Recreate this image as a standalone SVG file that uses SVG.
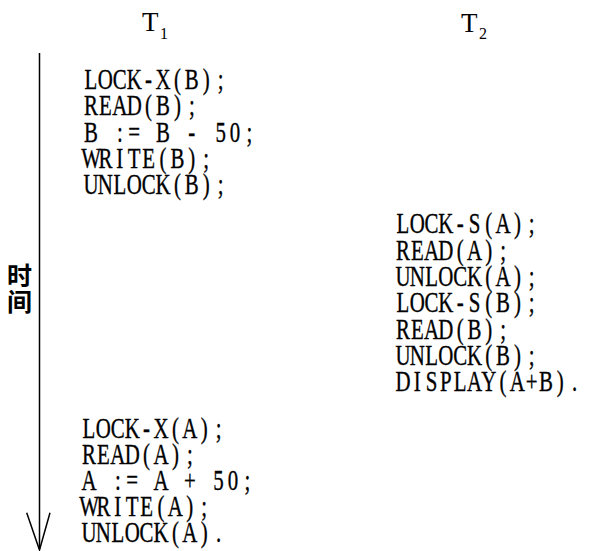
<svg xmlns="http://www.w3.org/2000/svg" width="594" height="551" viewBox="0 0 594 551">
<style>
.code{font-family:"Liberation Serif","Times New Roman",serif;font-size:29px;fill:#000;text-anchor:middle;stroke:#000;stroke-width:0.35}
.hd{font-family:"Liberation Serif","Times New Roman",serif;fill:#000}
.cjk{font-family:"Noto Sans CJK SC",sans-serif;font-size:25px;font-weight:bold;fill:#000}
.ln{stroke:#000;stroke-width:1.5;fill:none}
</style>
<rect width="594" height="551" fill="#fff"/>
<g id="connectors">
<line class="ln" x1="39.5" y1="53" x2="39.5" y2="549"/>
<polyline class="ln" points="26.7,512.7 39.5,550 50,512.7"/>
</g>
<g id="time-label">
<text class="cjk" x="7" y="285">时</text>
<text class="cjk" x="7" y="311">间</text>
</g>
<g id="header-T1">
<text class="hd" x="142" y="31" font-size="27">T</text>
<text class="hd" x="160" y="39" font-size="16">1</text>
</g>
<g id="header-T2">
<text class="hd" x="461" y="32" font-size="27">T</text>
<text class="hd" x="479" y="39" font-size="16">2</text>
</g>
<g id="T1-block1" transform="scale(0.72,1)">
<text class="code" x="126.4 146.4 166.4 186.4 206.4 226.4 246.4 266.4 286.4 306.4" y="89.3">LOCK-X(B);</text>
<text class="code" x="126.4 146.4 166.4 186.4 206.4 226.4 246.4 266.4" y="115.5">READ(B);</text>
<text class="code" x="126.4 146.4 166.4 186.4 206.4 226.4 246.4 266.4 286.4 306.4 326.4 346.4" y="141.7">B := B - 50;</text>
<text class="code" x="126.4 146.4 166.4 186.4 206.4 226.4 246.4 266.4 286.4" y="167.9">WRITE(B);</text>
<text class="code" x="126.4 146.4 166.4 186.4 206.4 226.4 246.4 266.4 286.4 306.4" y="194">UNLOCK(B);</text>
</g>
<g id="T2-block" transform="scale(0.72,1)">
<text class="code" x="559.7 579.56 599.42 619.28 639.14 659 678.86 698.72 718.58 738.44" y="233.3">LOCK-S(A);</text>
<text class="code" x="559.7 579.56 599.42 619.28 639.14 659 678.86 698.72" y="259.6">READ(A);</text>
<text class="code" x="559.7 579.56 599.42 619.28 639.14 659 678.86 698.72 718.58 738.44" y="286">UNLOCK(A);</text>
<text class="code" x="559.7 579.56 599.42 619.28 639.14 659 678.86 698.72 718.58 738.44" y="312.3">LOCK-S(B);</text>
<text class="code" x="559.7 579.56 599.42 619.28 639.14 659 678.86 698.72" y="338.6">READ(B);</text>
<text class="code" x="559.7 579.56 599.42 619.28 639.14 659 678.86 698.72 718.58 738.44" y="365">UNLOCK(B);</text>
<text class="code" x="559.7 579.56 599.42 619.28 639.14 659 678.86 698.72 718.58 738.44 758.3 778.16 798.02" y="391.5">DISPLAY(A+B).</text>
</g>
<g id="T1-block2" transform="scale(0.72,1)">
<text class="code" x="123.6 143.6 163.6 183.6 203.6 223.6 243.6 263.6 283.6 303.6" y="437.7">LOCK-X(A);</text>
<text class="code" x="123.6 143.6 163.6 183.6 203.6 223.6 243.6 263.6" y="463.9">READ(A);</text>
<text class="code" x="123.6 143.6 163.6 183.6 203.6 223.6 243.6 263.6 283.6 303.6 323.6 343.6" y="490.1">A := A + 50;</text>
<text class="code" x="123.6 143.6 163.6 183.6 203.6 223.6 243.6 263.6 283.6" y="516.3">WRITE(A);</text>
<text class="code" x="123.6 143.6 163.6 183.6 203.6 223.6 243.6 263.6 283.6 303.6" y="542.5">UNLOCK(A).</text>
</g>
</svg>
